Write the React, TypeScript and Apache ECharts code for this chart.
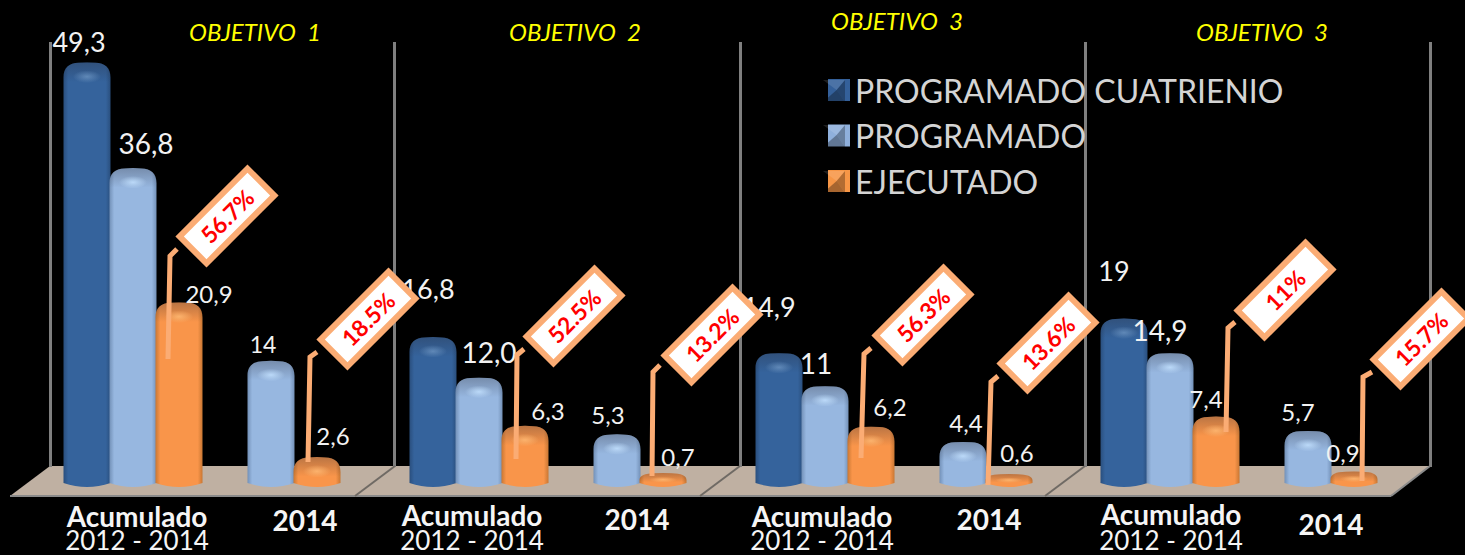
import React, { useEffect, useRef } from "react";
import * as echarts from "echarts";

const categories = ["Acumulado 2012 - 2014", "2014"];
const seriesNames = ["PROGRAMADO CUATRIENIO", "PROGRAMADO", "EJECUTADO"];
const objetivos = ["OBJETIVO  1", "OBJETIVO  2", "OBJETIVO  3", "OBJETIVO  3"];

const programadoCuatrienio = [[49.3, null], [16.8, null], [14.9, null], [19, null]];
const programado = [[36.8, 14], [12.0, 5.3], [11, 4.4], [14.9, 5.7]];
const ejecutado = [[20.9, 2.6], [6.3, 0.7], [6.2, 0.6], [7.4, 0.9]];

const programadoCuatrienioLabels = [["49,3", ""], ["16,8", ""], ["14,9", ""], ["19", ""]];
const programadoLabels = [["36,8", "14"], ["12,0", "5,3"], ["11", "4,4"], ["14,9", "5,7"]];
const ejecutadoLabels = [["20,9", "2,6"], ["6,3", "0,7"], ["6,2", "0,6"], ["7,4", "0,9"]];

const percentAcumulado = ["56.7%", "52.5%", "56.3%", "11%"];
const percent2014 = ["18.5%", "13.2%", "13.6%", "15.7%"];

// ---- layout (not data) ----
const gridLefts = [64, 410, 756, 1101];
const seriesData = [programadoCuatrienio, programado, ejecutado];
const seriesLabels = [programadoCuatrienioLabels, programadoLabels, ejecutadoLabels];
const FONT = "Lato, Carlito, 'Open Sans', sans-serif";

const palette = [
  { legend: "#34609a", edge: "#2a4f7e", mid: "#35639c", hi: "rgba(110,150,195,0.75)" },
  { legend: "#8fb0dc", edge: "#7391b8", mid: "#97b7e0", hi: "rgba(195,225,255,0.85)" },
  { legend: "#f79646", edge: "#c97733", mid: "#f9954a", hi: "rgba(255,185,115,0.85)" },
];

// label offset [dx, dy, fontSize] from the top centre of a bar: [panel][series][category]
const labelOffsets = [
  [[[-8, -21, 27]], [[13, -25, 28], [-8, -17, 23]], [[30, -9, 24], [16, -22, 24]]],
  [[[-5, -49, 27]], [[10, -26, 28], [-9, -20, 24]], [[23, -15, 24], [15, -17, 24]]],
  [[[-10, -47, 27]], [[-9, -23, 28], [3, -19, 24]], [[19, -20, 24], [8, -21, 24]]],
  [[[-10, -48, 27]], [[-10, -23, 28], [-10, -19, 24]], [[-10, -18, 24], [-11, -19, 24]]],
];

const calloutCenters = [
  [[227, 216], [368, 319]],
  [[574, 316], [712, 335]],
  [[923, 315], [1048, 343]],
  [[1285, 290], [1421, 339]],
];
const leaders = [
  [[[177, 249], [170, 256], [168, 359]], [[317, 352], [310, 357], [308, 462]]],
  [[[524, 349], [517, 355], [516, 459]], [[660, 365], [653, 372], [652, 476]]],
  [[[871, 348], [864, 354], [861, 458]], [[998, 376], [991, 382], [988, 485]]],
  [[[1235, 322], [1228, 328], [1226, 432]], [[1372, 372], [1363, 377], [1362, 481]]],
];
const titleSpots = [[250, 14], [570, 14], [892, 3], [1257, 14]];
const axisTextX = [[137, 305], [472, 637], [822, 989], [1171, 1331]];
const axisTextY = [[516, 540, 520], [515, 540, 519], [516, 540, 519], [514, 540, 524]];
const wallX = [50, 394, 740, 1085, 1430];
const floorFront = [355, 700, 1045];

echarts.graphic.registerShape(
  "cylinder",
  echarts.graphic.extendShape({
    shape: { x: 0, y: 0, w: 0, h: 0, rt: 0 },
    buildPath(ctx: any, s: any) {
      const { x, y, w, h, rt } = s;
      ctx.moveTo(x, y + rt);
      ctx.bezierCurveTo(x, y + rt * 0.35, x + w * 0.12, y + rt * 0.05, x + w * 0.32, y + rt * 0.03);
      ctx.quadraticCurveTo(x + w * 0.5, y - rt * 0.02, x + w * 0.68, y + rt * 0.03);
      ctx.bezierCurveTo(x + w * 0.88, y + rt * 0.05, x + w, y + rt * 0.35, x + w, y + rt);
      ctx.lineTo(x + w, y + h - 4);
      ctx.quadraticCurveTo(x + w * 0.5, y + h + 4, x, y + h - 4);
      ctx.closePath();
    },
  })
);

function makeRenderItem(panel: number, sIdx: number) {
  return (params: any, api: any) => {
    const cat = api.value(0);
    const v = api.value(1);
    if (v == null || isNaN(v)) return null;
    const [cx0, top] = api.coord([cat, v]);
    const [, y0] = api.coord([cat, 0]);
    const slot = api.size([1, 0])[0] / 3;
    const cx = cx0 + (sIdx - 1) * slot;
    const w = slot + 1;
    const x = cx - w / 2;
    const h = y0 + 8 - top;
    const rt = Math.min(15, h * 0.5);
    const c = palette[sIdx];
    const off = labelOffsets[panel][sIdx][cat];
    const capStop = Math.min(0.9, (rt * 1.3) / h);
    return {
      type: "group",
      children: [
        {
          type: "cylinder",
          shape: { x, y: top, w, h, rt },
          style: {
            fill: {
              type: "linear", x: 0, y: 0, x2: 1, y2: 0,
              colorStops: [
                { offset: 0, color: c.edge },
                { offset: 0.1, color: c.mid },
                { offset: 0.9, color: c.mid },
                { offset: 1, color: c.edge },
              ],
            },
          },
        },
        {
          type: "cylinder",
          shape: { x, y: top, w, h, rt },
          style: {
            fill: {
              type: "linear", x: 0, y: 0, x2: 0, y2: 1,
              colorStops: [
                { offset: 0, color: "rgba(40,40,50,0.3)" },
                { offset: capStop, color: "rgba(40,40,50,0)" },
                { offset: 1, color: "rgba(40,40,50,0)" },
              ],
            },
          },
        },
        {
          type: "ellipse",
          shape: { cx, cy: top + rt * 0.95, rx: w * 0.3, ry: Math.max(2, rt * 0.42) },
          style: {
            fill: {
              type: "radial", x: 0.5, y: 0.5, r: 0.5,
              colorStops: [
                { offset: 0, color: c.hi },
                { offset: 1, color: c.hi.replace(/[\d.]+\)$/, "0)") },
              ],
            },
          },
        },
        {
          type: "text",
          style: {
            x: cx + off[0],
            y: top + off[1],
            text: seriesLabels[sIdx][panel][cat],
            fill: "#f2f2f2",
            font: `${off[2]}px ${FONT}`,
            align: "center",
            verticalAlign: "middle",
          },
        },
      ],
    };
  };
}

function buildOption() {
  const grid: any[] = [];
  const xAxis: any[] = [];
  const yAxis: any[] = [];
  const series: any[] = [];
  const title: any[] = [];
  const graphic: any[] = [];

  graphic.push({
    type: "polygon",
    z: 0,
    shape: { points: [[10, 496], [50, 466], [1430, 466], [1391, 496]] },
    style: { fill: "#bfb0a2" },
  });
  graphic.push({
    type: "line", z: 0,
    shape: { x1: 10, y1: 496, x2: 1391, y2: 496 },
    style: { stroke: "#8a8a8a", lineWidth: 2 },
  });
  graphic.push({
    type: "line", z: 0,
    shape: { x1: 1391, y1: 496, x2: 1430, y2: 466 },
    style: { stroke: "#8a8a8a", lineWidth: 2 },
  });
  wallX.forEach((x) => {
    graphic.push({
      type: "rect", z: 0,
      shape: { x: x - 1, y: 42, width: 3, height: 425 },
      style: { fill: "#7f7f7f" },
    });
  });
  floorFront.forEach((x) => {
    graphic.push({
      type: "line", z: 0,
      shape: { x1: x, y1: 496, x2: x + 40, y2: 466 },
      style: { stroke: "#6f6a64", lineWidth: 2 },
    });
  });

  gridLefts.forEach((left, p) => {
    grid.push({ left, top: 56.5, width: 276, height: 422.5 });
    xAxis.push({ type: "category", gridIndex: p, data: categories, show: false });
    yAxis.push({ type: "value", gridIndex: p, min: 0, max: 50, show: false });
    seriesNames.forEach((name, s) => {
      series.push({
        type: "custom",
        name,
        xAxisIndex: p,
        yAxisIndex: p,
        itemStyle: { color: palette[s].legend },
        encode: { x: 0, y: 1 },
        renderItem: makeRenderItem(p, s),
        data: categories
          .map((_, c) => [c, seriesData[s][p][c]])
          .filter((d) => d[1] != null),
      });
    });
    title.push({
      text: objetivos[p],
      left: titleSpots[p][0],
      top: titleSpots[p][1],
      textAlign: "center",
      textStyle: { color: "#ffff00", fontStyle: "italic", fontWeight: "normal", fontSize: 24, fontFamily: FONT },
    });

    const [x1, x2] = axisTextX[p];
    const [y1, y2, y3] = axisTextY[p];
    const parts = categories[0].split(" ");
    const line1 = parts[0];
    const line2 = parts.slice(1).join(" ");
    graphic.push(
      { type: "text", z: 5, x: x1, y: y1, style: { text: line1, fill: "#f5f5f5", font: `bold 28px ${FONT}`, align: "center", verticalAlign: "middle" } },
      { type: "text", z: 5, x: x1, y: y2, style: { text: line2, fill: "#f5f5f5", font: `26px ${FONT}`, align: "center", verticalAlign: "middle" } },
      { type: "text", z: 5, x: x2, y: y3, style: { text: categories[1], fill: "#f5f5f5", font: `bold 28px ${FONT}`, align: "center", verticalAlign: "middle" } }
    );

    [percentAcumulado[p], percent2014[p]].forEach((txt, i) => {
      const [cx, cy] = calloutCenters[p][i];
      graphic.push({
        type: "polyline", z: 8,
        shape: { points: leaders[p][i] },
        style: { stroke: "#fbac74", lineWidth: 5, fill: "none" },
      });
      graphic.push({
        type: "rect", z: 9, x: cx, y: cy, rotation: Math.PI / 4,
        shape: { x: -48, y: -19, width: 96, height: 38 },
        style: { fill: "#ffffff", stroke: "#fbac74", lineWidth: 6 },
      });
      graphic.push({
        type: "text", z: 10, x: cx, y: cy, rotation: Math.PI / 4,
        style: { text: txt, fill: "#ff0000", font: `bold 23px ${FONT}`, align: "center", verticalAlign: "middle" },
      });
    });
  });

  // shading of the legend's squares
  [80, 125, 171].forEach((y) => {
    const x = 823, s = 22, mx = x + s * 0.62, my = y + s * 0.45;
    graphic.push(
      { type: "polygon", z: 6, shape: { points: [[x, y], [x + s, y], [mx, my]] }, style: { fill: "rgba(255,255,255,0.12)" } },
      { type: "polygon", z: 6, shape: { points: [[x + s, y], [x + s, y + s], [mx, my]] }, style: { fill: "rgba(0,0,0,0.28)" } },
      { type: "polygon", z: 6, shape: { points: [[x, y + s], [x + s, y + s], [mx, my]] }, style: { fill: "rgba(0,0,0,0.32)" } }
    );
  });

  return {
    animation: false,
    backgroundColor: "#000000",
    title,
    grid,
    xAxis,
    yAxis,
    series,
    graphic: { elements: graphic },
    legend: {
      data: seriesNames,
      orient: "vertical",
      left: 823,
      top: 64,
      icon: "rect",
      itemWidth: 22,
      itemHeight: 22,
      itemGap: 3.5,
      selectedMode: false,
      textStyle: { color: "#d4d4d4", fontSize: 32, fontFamily: FONT, lineHeight: 42 },
    },
  };
}

export default function App() {
  const ref = useRef<HTMLDivElement>(null);
  useEffect(() => {
    document.body.style.margin = "0";
    document.body.style.background = "#000";
    const chart = echarts.init(ref.current!, null, { renderer: "svg" });
    chart.setOption(buildOption() as any);
    return () => chart.dispose();
  }, []);
  return <div ref={ref} style={{ width: 1465, height: 555 }} />;
}
